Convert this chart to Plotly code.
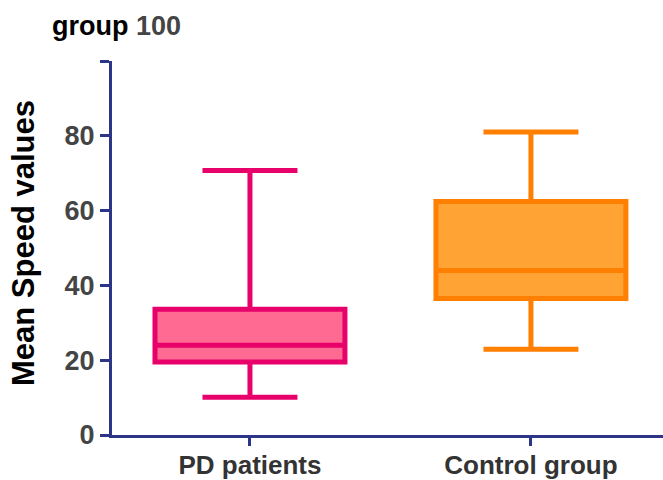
import plotly.graph_objects as go

categories = ["PD patients", "Control group"]
lower_whisker = [10.1, 22.9]
q1_values = [19.5, 36.5]
median_values = [24.0, 44.0]
q3_values = [33.6, 62.4]
upper_whisker = [70.7, 81.0]
line_colors = ["#E8006B", "#FF7F00"]
fill_colors = ["#FF6A92", "#FFA335"]
y_tick_values = [0, 20, 40, 60, 80, 100]
y_tick_labels = ["0", "20", "40", "60", "80", ""]

AXIS = "#2D3588"
FONT = "Liberation Sans, Arial, sans-serif"
L, R, T, B = 112, 0, 61, 45
W, H = 663, 480
PW, PH = W - L - R, H - T - B

fig = go.Figure()
for i, cat in enumerate(categories):
    fig.add_trace(go.Box(
        x=[cat],
        lowerfence=[lower_whisker[i]],
        q1=[q1_values[i]],
        median=[median_values[i]],
        q3=[q3_values[i]],
        upperfence=[upper_whisker[i]],
        fillcolor=fill_colors[i],
        line=dict(color=line_colors[i], width=5),
        width=0.676,
        whiskerwidth=0.5,
        boxpoints=False,
        showlegend=False,
        hoverinfo="skip",
    ))

fig.update_layout(
    width=W, height=H,
    margin=dict(l=L, r=R, t=T, b=B, autoexpand=False),
    paper_bgcolor="white", plot_bgcolor="white",
    font=dict(family=FONT),
    title=dict(
        text="<b>group <span style='color:#444444'>100</span></b>",
        x=52 / W, xanchor="left", y=1 - 26 / H, yanchor="middle",
        font=dict(size=27, color="black", family=FONT),
    ),
    xaxis=dict(
        type="category",
        range=[-0.491, 1.470],
        automargin=False,
        showline=True, linecolor=AXIS, linewidth=3,
        ticks="outside", ticklen=8, tickwidth=3, tickcolor=AXIS,
        tickfont=dict(size=26, color="#333333", family=FONT),
        ticklabelstandoff=-3,
        showgrid=False, zeroline=False,
        tickprefix="<b>", ticksuffix="</b>",
    ),
    yaxis=dict(
        range=[0, 100],
        automargin=False,
        tickvals=y_tick_values,
        ticktext=["<b>%s</b>" % t if t else "" for t in y_tick_labels],
        showline=True, linecolor=AXIS, linewidth=3,
        ticks="outside", ticklen=9, tickwidth=3, tickcolor=AXIS,
        tickfont=dict(size=27, color="#444444", family=FONT),
        showgrid=False, zeroline=False,
    ),
    annotations=[dict(
        text="<b>Mean Speed values</b>",
        xref="paper", yref="paper",
        x=(24 - L) / PW, y=(H - B - 243) / PH,
        xanchor="center", yanchor="middle",
        textangle=-90, showarrow=False,
        font=dict(size=31, color="black", family=FONT),
    )],
)

fig.write_html(
    "out.html",
    config={"displayModeBar": False},
    post_script="document.body.style.margin='0px';document.body.style.overflow='hidden';",
)
